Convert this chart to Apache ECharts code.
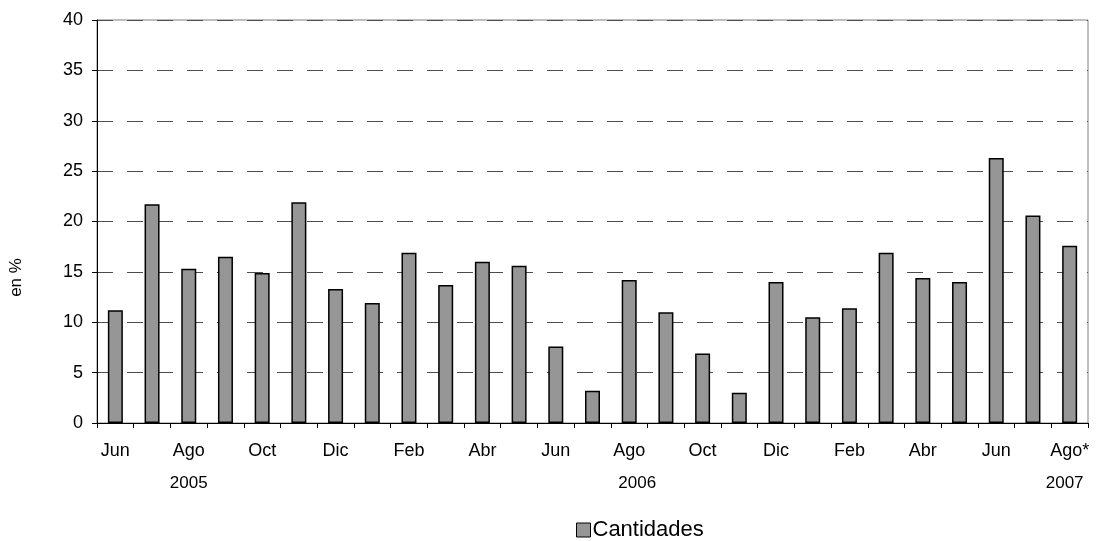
<!DOCTYPE html>
<html>
<head>
<meta charset="utf-8">
<script src="https://cdn.jsdelivr.net/npm/echarts@6/dist/echarts.min.js"></script>
<style>
  html, body { margin: 0; padding: 0; background: #fff; }
  #chart { width: 1098px; height: 541px; }
</style>
</head>
<body>
<div id="chart"></div>
<script>
// Monthly series, June 2005 to August 2007 (last month provisional)
const months = ['Jun', 'Jul', 'Ago', 'Sep', 'Oct', 'Nov', 'Dic', 'Ene', 'Feb', 'Mar', 'Abr', 'May',
                'Jun', 'Jul', 'Ago', 'Sep', 'Oct', 'Nov', 'Dic', 'Ene', 'Feb', 'Mar', 'Abr', 'May',
                'Jun', 'Jul', 'Ago*'];
const cantidades = [11.2, 21.7, 15.3, 16.5, 14.9, 21.9, 13.3, 11.9,
                    16.9, 13.7, 16.0, 15.6, 7.6, 3.2, 14.2, 11.0, 6.9, 3.0, 14.0,
                    10.5, 11.4, 16.9, 14.4, 14.0, 26.3, 20.6, 17.6];
// Year captions shown on the second label row, keyed by category index
const yearLabels = { 2: '2005', 14: '2006', 26: '2007' };
const yTicks = { min: 0, max: 40, step: 5 };

const font = '"Liberation Sans", Arial, sans-serif';

const chart = echarts.init(document.getElementById('chart'), null, { renderer: 'canvas' });

chart.setOption({
  animation: false,
  backgroundColor: '#ffffff',
  textStyle: { fontFamily: font, color: '#000' },
  grid: {
    left: 97, right: 10, top: 20, bottom: 118,
    show: true, borderColor: '#808080', borderWidth: 1
  },
  legend: {
    data: ['Cantidades'],
    left: 571, top: 514,
    itemWidth: 14, itemHeight: 14,
    icon: 'rect',
    itemStyle: { color: '#969696', borderColor: '#000', borderWidth: 1 },
    textStyle: { fontFamily: font, fontSize: 22, color: '#000', padding: [0, 0, 0, -3] }
  },
  xAxis: [
    {
      type: 'category',
      data: months,
      position: 'bottom',
      boundaryGap: true,
      axisLine: { lineStyle: { color: '#000', width: 1 } },
      axisTick: { show: true, interval: 0, length: 5, lineStyle: { color: '#000' } },
      axisLabel: { interval: 1, margin: 19, fontSize: 18, color: '#000', fontFamily: font }
    },
    {
      type: 'category',
      data: months,
      position: 'bottom',
      gridIndex: 0,
      axisLine: { show: false },
      axisTick: { show: false },
      axisLabel: {
        interval: 0,
        margin: 52,
        fontSize: 17,
        color: '#000',
        fontFamily: font,
        formatter: function (value, idx) {
          const y = yearLabels[idx];
          if (!y) return '';
          if (idx === 14) return '{r|' + y + '}';
          if (idx === 26) return '{l|' + y + '}';
          return y;
        },
        rich: {
          r: { fontSize: 17, fontFamily: font, color: '#000', padding: [0, 0, 0, 16] },
          l: { fontSize: 17, fontFamily: font, color: '#000', padding: [0, 10, 0, 0] }
        }
      }
    }
  ],
  yAxis: {
    type: 'value',
    min: yTicks.min, max: yTicks.max, interval: yTicks.step,
    name: 'en %',
    nameLocation: 'middle',
    nameGap: 72,
    nameTextStyle: { fontFamily: font, fontSize: 17, color: '#000', padding: [0, 112, 0, 0] },
    axisLine: { show: true, lineStyle: { color: '#000', width: 1 } },
    axisTick: { show: true, length: 5, lineStyle: { color: '#000' } },
    axisLabel: { margin: 14, fontSize: 18, color: '#000', fontFamily: font },
    splitLine: { show: true, lineStyle: { color: '#4d4d4d', width: 1, type: [16, 14] } }
  },
  series: [
    {
      name: 'Cantidades',
      type: 'bar',
      xAxisIndex: 0,
      data: cantidades,
      barWidth: 15,
      itemStyle: { color: '#969696', borderColor: '#000', borderWidth: 1.5 }
    }
  ]
});
</script>
</body>
</html>
